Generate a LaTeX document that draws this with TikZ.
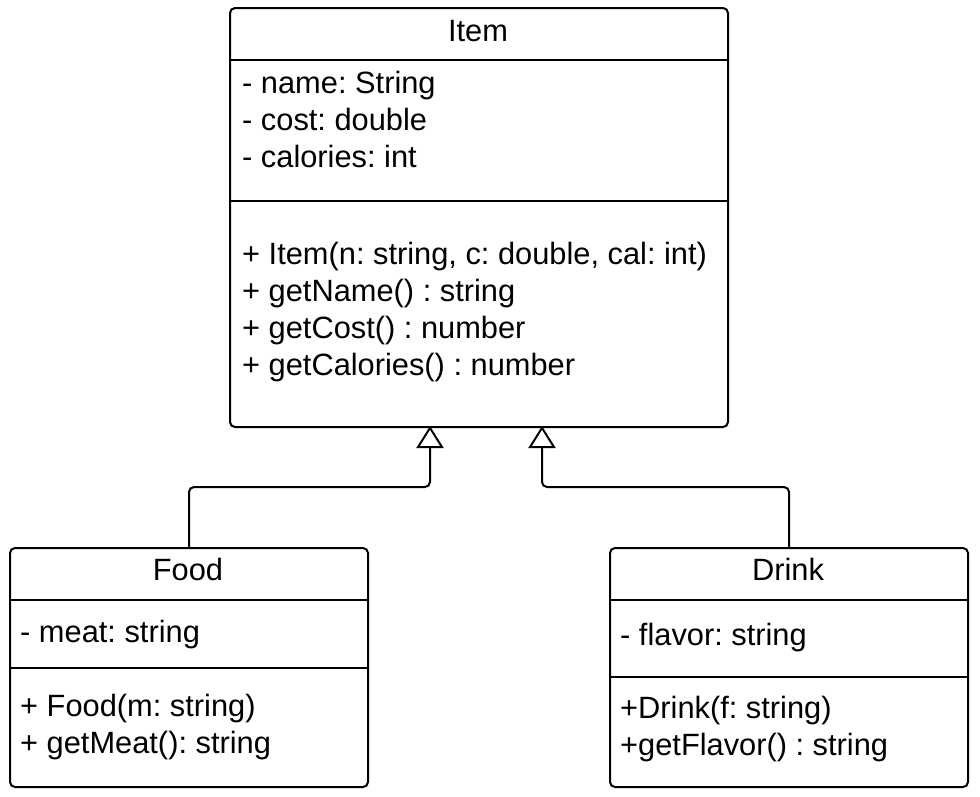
\documentclass[tikz,border=0pt]{standalone}
\usepackage{fontspec}
\setmainfont{Liberation Sans}
\usetikzlibrary{arrows.meta}
\frenchspacing
\begin{document}
\begin{tikzpicture}[x=1pt,y=-1pt,
  umlbox/.style={draw, line width=2pt, rounded corners=5pt, anchor=north west, inner sep=0pt},
  sep/.style={line width=2pt},
  txt/.style={anchor=base west, inner sep=0pt, font=\fontsize{30.8}{37}\selectfont},
  ttl/.style={anchor=base, inner sep=0pt, font=\fontsize{30.8}{37}\selectfont},
  inherit/.style={line width=2pt, rounded corners=5pt, -{Triangle[open, width=27pt, length=22pt, line width=2pt]}}
]
\useasboundingbox (0,0) rectangle (980,796);
% Item
\node[umlbox, minimum width=498pt, minimum height=419pt] (item) at (229,7) {};
\draw[sep] (229,60) -- (727,60);
\draw[sep] (229,201) -- (727,201);
\node[ttl] (itemT) at (478,41) {Item};
\node[txt] (a1) at (242,93) {- name: String};
\node[txt] (a2) at (242,130) {- cost: double};
\node[txt] (a3) at (242,167) {- calories: int};
\node[txt] (m1) at (242,264) {+ Item(n: string, c: double, cal: int)};
\node[txt] (m2) at (242,301) {+ getName() : string};
\node[txt] (m3) at (242,338) {+ getCost() : number};
\node[txt] (m4) at (242,375) {+ getCalories() : number};
% Food
\node[umlbox, minimum width=358pt, minimum height=239pt] (food) at (9,547) {};
\draw[sep] (9,600) -- (367,600);
\draw[sep] (9,668) -- (367,668);
\node[ttl] (foodT) at (188,580) {Food};
\node[txt] (fa1) at (20,642) {- meat: string};
\node[txt] (fm1) at (20,716) {+ Food(m: string)};
\node[txt] (fm2) at (20,753) {+ getMeat(): string};
% Drink
\node[umlbox, minimum width=358pt, minimum height=239pt] (drink) at (609,547) {};
\draw[sep] (609,600) -- (967,600);
\draw[sep] (609,677) -- (967,677);
\node[ttl] (drinkT) at (788,580) {Drink};
\node[txt] (da1) at (620,645) {- flavor: string};
\node[txt] (dm1) at (620,718) {+Drink(f: string)};
\node[txt] (dm2) at (620,755) {+getFlavor() : string};
% connectors
\coordinate (t1) at (430,426);
\coordinate (t2) at (542,426);
\draw[inherit] (food.north) |- (430,487) -- (t1);
\draw[inherit] (drink.north) |- (542,487) -- (t2);
\end{tikzpicture}
\end{document}
